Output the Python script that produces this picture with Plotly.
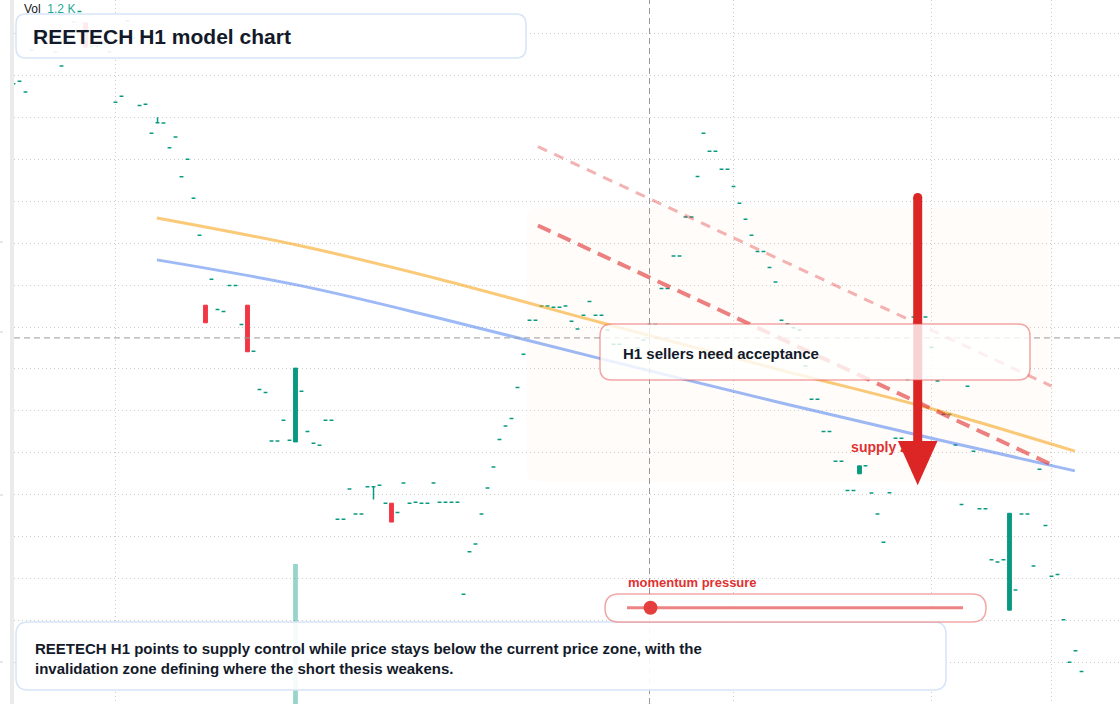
import plotly.graph_objects as go

W, H = 1120, 704

# bar closes, one per hourly bar starting at bar index 2
first_bar = 2
closes = [
    11.480, 11.486, 11.460, 11.560, 11.579, 11.608, 11.594, 11.556, 11.522, 11.584,
    11.627, 11.652, 11.567, 11.570, 11.570, 11.575, 11.556, 11.436, 11.450, 11.630,
    11.589, 11.428, 11.431, 11.362, 11.387, 11.386, 11.327, 11.353, 11.258, 11.300,
    11.207, 11.119, 10.910, 11.014, 10.942, 10.937, 10.999, 10.999, 10.906, 10.841,
    10.842, 10.751, 10.744, 10.628, 10.628, 10.678, 10.630, 10.802, 10.747, 10.651,
    10.623, 10.618, 10.678, 10.678, 10.442, 10.442, 10.514, 10.454, 10.454, 10.519,
    10.519, 10.523, 10.480, 10.435, 10.458, 10.528, 10.480, 10.482, 10.480, 10.480,
    10.528, 10.482, 10.482, 10.482, 10.482, 10.263, 10.364, 10.383, 10.454, 10.516,
    10.566, 10.632, 10.664, 10.682, 10.756, 10.835, 10.916, 10.916, 10.950, 10.950,
    10.947, 10.947, 10.950, 10.914, 10.895, 10.928, 10.961, 10.928, 10.928, 10.893,
    10.859, 10.859, 10.845, 10.833, 10.850, 10.869, 10.906, 10.906, 10.992, 10.992,
    11.069, 11.069, 11.162, 11.162, 11.259, 11.362, 11.319, 11.319, 11.276, 11.276,
    11.235, 11.195, 11.157, 11.119, 11.080, 11.080, 11.042, 11.007, 10.916, 10.907,
    10.898, 10.893, 10.807, 10.728, 10.728, 10.651, 10.651, 10.580, 10.580, 10.510,
    10.510, 10.569, 10.569, 10.504, 10.454, 10.387, 10.505, 10.635, 10.635, 10.775,
    10.924, 10.924, 10.924, 10.852, 10.771, 10.692, 10.692, 10.619, 10.477, 10.759,
    10.604, 10.467, 10.467, 10.345, 10.340, 10.345, 10.456, 10.273, 10.454, 10.454,
    10.330, 10.561, 10.427, 10.306, 10.310, 10.202, 10.101, 10.128, 10.079,
]
# bars with a real body (open differs from close)
body_bars = [14, 34, 41, 49, 65, 143, 168]
body_open = [11.625, 10.952, 10.952, 10.626, 10.480, 10.550, 10.225]
# bars with a visible wick
wick_bars = [26, 62]
wick_high = [11.400, 10.519]
wick_low = [11.387, 10.489]

vol_bars = [49, 108]
volume = [994000, 1200]

# model curves
orange_bars = [25.9, 50, 73, 100, 130, 155, 178.9]
orange_vals = [11.160, 11.093, 11.014, 10.910, 10.797, 10.705, 10.604]
blue_bars = [25.9, 50, 73, 100, 130, 155, 178.9]
blue_vals = [11.060, 10.998, 10.921, 10.824, 10.719, 10.635, 10.557]
red_dash_bars = [89.4, 175.3]
red_dash_vals = [11.142, 10.570]
pale_dash_bars = [89.4, 175.0]
pale_dash_vals = [11.330, 10.759]

zone_bars = [87.5, 175.25]
zone_prices = [10.531, 11.185]
arrow_bar = 152.7
arrow_from, arrow_to = 11.209, 10.523
cross_bar, cross_price = 108, 10.874
momentum = 0.07

price_grid = [10.0, 10.1, 10.2, 10.3, 10.4, 10.5, 10.6, 10.7, 10.8, 10.9,
              11.0, 11.1, 11.2, 11.3, 11.4, 11.5, 11.6]
time_grid = [19, 122, 155, 175]

FONT = "Liberation Sans, Arial, sans-serif"
UP, DOWN = "#089981", "#f23645"

# ---- build OHLC ----
bars = list(range(first_bar, first_bar + len(closes)))
opens = list(closes)
for b, o in zip(body_bars, body_open):
    opens[b - first_bar] = o
highs = [max(o, c) for o, c in zip(opens, closes)]
lows = [min(o, c) for o, c in zip(opens, closes)]
for b, hi, lo in zip(wick_bars, wick_high, wick_low):
    highs[b - first_bar] = hi
    lows[b - first_bar] = lo

flat = [i for i, b in enumerate(bars) if b not in body_bars]
body = [i for i, b in enumerate(bars) if b in body_bars]


def pick(lst, idx):
    return [lst[i] for i in idx]


def px(x):
    return x / W


def py(y):
    return 1 - y / H


def rounded(x0, y0, x1, y1, rx, ry):
    # x0<x1, y0>y1 (top first), rx/ry corner radius in the same units
    return (f"M{x0+rx:.5f},{y0:.5f} L{x1-rx:.5f},{y0:.5f} Q{x1:.5f},{y0:.5f} {x1:.5f},{y0-ry:.5f} "
            f"L{x1:.5f},{y1+ry:.5f} Q{x1:.5f},{y1:.5f} {x1-rx:.5f},{y1:.5f} "
            f"L{x0+rx:.5f},{y1:.5f} Q{x0:.5f},{y1:.5f} {x0:.5f},{y1+ry:.5f} "
            f"L{x0:.5f},{y0-ry:.5f} Q{x0:.5f},{y0:.5f} {x0+rx:.5f},{y0:.5f} Z")


def box(x0, y0, x1, y1, r):
    return rounded(px(x0), py(y0), px(x1), py(y1), r / W, r / H)


fig = go.Figure()

fig.add_trace(go.Bar(x=vol_bars, y=volume, yaxis="y2", width=0.8,
                     marker=dict(color="rgba(8,153,129,0.42)", line_width=0)))

fig.add_trace(go.Candlestick(
    x=pick(bars, flat), open=pick(opens, flat), high=pick(highs, flat),
    low=pick(lows, flat), close=pick(closes, flat),
    increasing=dict(line=dict(color=UP, width=1.5), fillcolor=UP),
    decreasing=dict(line=dict(color=UP, width=1.5), fillcolor=UP),
    hoverinfo="skip"))
fig.add_trace(go.Candlestick(
    x=pick(bars, body), open=pick(opens, body), high=pick(highs, body),
    low=pick(lows, body), close=pick(closes, body),
    increasing=dict(line=dict(color=UP, width=1), fillcolor=UP),
    decreasing=dict(line=dict(color=DOWN, width=1), fillcolor=DOWN),
    hoverinfo="skip"))

fig.add_trace(go.Scatter(x=orange_bars, y=orange_vals, mode="lines",
                         line=dict(color="rgba(245,158,11,0.55)", width=3, shape="spline")))
fig.add_trace(go.Scatter(x=blue_bars, y=blue_vals, mode="lines",
                         line=dict(color="rgba(37,99,235,0.45)", width=3, shape="spline")))
fig.add_trace(go.Scatter(x=pale_dash_bars, y=pale_dash_vals, mode="lines",
                         line=dict(color="rgba(220,38,38,0.35)", width=3, dash="10px,8px")))
fig.add_trace(go.Scatter(x=red_dash_bars, y=red_dash_vals, mode="lines",
                         line=dict(color="rgba(220,38,38,0.58)", width=4, dash="14px,8px")))
fig.add_trace(go.Scatter(x=[141.6], y=[10.611], mode="text", text=["<b>supply zone</b>"],
                         textposition="middle right",
                         textfont=dict(family=FONT, size=14, color="#e03131")))

shapes = []
# supply zone
zx0, zx1 = zone_bars
zy0, zy1 = zone_prices
shapes.append(dict(type="path", xref="x", yref="y", layer="below",
                   path=rounded(zx0, zy1, zx1, zy0, 12 / 6, 12 / 419.5),
                   fillcolor="rgba(251,191,146,0.045)", line_width=0))
# left scale edge
shapes.append(dict(type="rect", xref="paper", yref="paper", x0=px(10), x1=px(14), y0=0, y1=1,
                   fillcolor="#ebebeb", line_width=0, layer="above"))
for ty in [242, 332, 495, 662]:
    shapes.append(dict(type="line", xref="paper", yref="paper", x0=0, x1=px(3), y0=py(ty), y1=py(ty),
                       line=dict(color="#d0d0d0", width=1)))
# crosshair
shapes.append(dict(type="line", xref="x", yref="paper", x0=cross_bar, x1=cross_bar, y0=0, y1=1,
                   line=dict(color="#9a9a9a", width=1, dash="6px,4px"), layer="above"))
shapes.append(dict(type="line", xref="paper", yref="y", x0=px(14), x1=1, y0=cross_price, y1=cross_price,
                   line=dict(color="#9a9a9a", width=1, dash="6px,4px"), layer="above"))
# arrow
shapes.append(dict(type="line", xref="x", yref="y", x0=arrow_bar, x1=arrow_bar,
                   y0=arrow_from, y1=arrow_to + 0.08, line=dict(color="#dc2626", width=9), layer="above"))
shapes.append(dict(type="circle", xref="x", yref="y", x0=arrow_bar - 0.75, x1=arrow_bar + 0.75,
                   y0=arrow_from - 0.0107, y1=arrow_from + 0.0107,
                   fillcolor="#dc2626", line_width=0, layer="above"))
shapes.append(dict(type="path", xref="x", yref="y", layer="above",
                   path=f"M{arrow_bar-3.3},{arrow_to+0.105} L{arrow_bar+3.3},{arrow_to+0.105} L{arrow_bar},{arrow_to} Z",
                   fillcolor="#dc2626", line_width=0))
# overlay boxes
shapes.append(dict(type="path", xref="paper", yref="paper", layer="above", path=box(16, 14, 526, 58, 10),
                   fillcolor="rgba(255,255,255,0.9)", line=dict(color="#d6e4f7", width=1.5)))
shapes.append(dict(type="path", xref="paper", yref="paper", layer="above", path=box(600, 324, 1030, 380, 12),
                   fillcolor="rgba(255,255,255,0.8)", line=dict(color="rgba(230,80,80,0.5)", width=1.5)))
shapes.append(dict(type="path", xref="paper", yref="paper", layer="above", path=box(16, 622, 946, 690, 12),
                   fillcolor="rgba(255,255,255,0.9)", line=dict(color="#d6e4f7", width=1.5)))
shapes.append(dict(type="path", xref="paper", yref="paper", layer="above", path=box(605, 594, 986, 622, 14),
                   fillcolor="rgba(255,255,255,0.88)", line=dict(color="rgba(230,80,80,0.5)", width=1.5)))
# momentum gauge
t0, t1, ty = 627, 963, 607.7
dot_x = t0 + momentum * (t1 - t0)
shapes.append(dict(type="line", xref="paper", yref="paper", x0=px(t0), x1=px(t1), y0=py(ty), y1=py(ty),
                   line=dict(color="rgba(230,80,80,0.7)", width=3), layer="above"))
shapes.append(dict(type="circle", xref="paper", yref="paper", x0=px(dot_x - 7), x1=px(dot_x + 7),
                   y0=py(ty + 7), y1=py(ty - 7), fillcolor="#e53e3e", line_width=0, layer="above"))

annotations = [
    dict(x=px(22), y=py(9), text=f"Vol  <span style='color:#22ab94'>{volume[1] / 1000:.1f} K</span>",
         font=dict(family=FONT, size=12, color="#131722")),
    dict(x=px(31), y=py(36), text="<b>REETECH H1 model chart</b>",
         font=dict(family=FONT, size=21, color="#131a2a")),
    dict(x=px(621), y=py(353), text="<b>H1 sellers need acceptance</b>",
         font=dict(family=FONT, size=15, color="#131a2a")),
    dict(x=px(33), y=py(658),
         text="<b>REETECH H1 points to supply control while price stays below the current price zone, with the<br>"
              "invalidation zone defining where the short thesis weakens.</b>",
         align="left", font=dict(family=FONT, size=15, color="#131a2a")),
    dict(x=px(626), y=py(582), text="<b>momentum pressure</b>",
         font=dict(family=FONT, size=13, color="#e03131")),
]
for a in annotations:
    a.update(xref="paper", yref="paper", xanchor="left", yanchor="middle", showarrow=False)

fig.update_layout(
    width=W, height=H, margin=dict(l=0, r=0, t=0, b=0),
    paper_bgcolor="white", plot_bgcolor="white", showlegend=False, hovermode=False,
    boxgap=0.2, boxgroupgap=0.2,
    xaxis=dict(domain=[14 / W, 1], range=[2.0833, 186.4167], tickvals=time_grid,
               showticklabels=False, showgrid=True, gridcolor="#cccccc", griddash="1px,3px",
               zeroline=False, showline=False, rangeslider=dict(visible=False)),
    yaxis=dict(range=[10.00131, 11.6795], tickvals=price_grid, showticklabels=False,
               showgrid=True, gridcolor="#cccccc", griddash="1px,3px", zeroline=False),
    yaxis2=dict(overlaying="y", range=[0, 5000000], visible=False, showgrid=False),
    shapes=shapes, annotations=annotations,
)

# the page body has a default 8px margin; drop it so the chart sits at the window origin
fig.write_html("out.html", config={"displayModeBar": False},
               post_script="document.body.style.margin='0px';")
